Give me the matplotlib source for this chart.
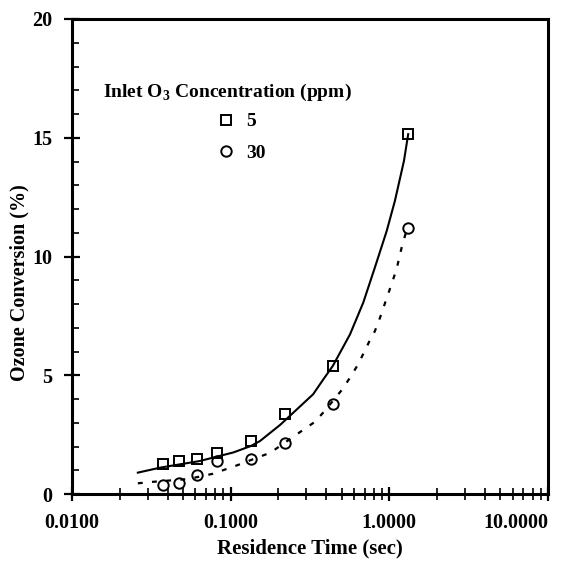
import matplotlib
matplotlib.use("Agg")
import matplotlib.pyplot as plt
from matplotlib.ticker import FixedLocator, LogLocator, MultipleLocator, NullFormatter

plt.rcParams['font.family'] = ['Liberation Serif', 'DejaVu Serif']
plt.rcParams['font.weight'] = 'bold'
plt.rcParams['mathtext.fontset'] = 'custom'
plt.rcParams['mathtext.bf'] = 'Liberation Serif:bold'
plt.rcParams['mathtext.rm'] = 'Liberation Serif:bold'

# measured points
time_pts = [0.0376, 0.0472, 0.0611, 0.0816, 0.134, 0.22, 0.444, 1.315]
conv_5ppm = [1.26, 1.40, 1.46, 1.72, 2.23, 3.38, 5.39, 15.15]
conv_30ppm = [0.37, 0.48, 0.80, 1.38, 1.46, 2.15, 3.78, 11.21]

# model curves
fit5_t = [0.026, 0.036, 0.064, 0.104, 0.134, 0.153, 0.205, 0.331, 0.384, 0.44,
          0.565, 0.685, 0.811, 0.962, 1.084, 1.236, 1.315]
fit5_c = [0.90, 1.11, 1.39, 1.75, 2.02, 2.23, 2.91, 4.20, 4.83, 5.39,
          6.72, 8.06, 9.54, 11.07, 12.34, 14.02, 15.15]
fit30_t = [0.026, 0.032, 0.054, 0.077, 0.109, 0.178, 0.285, 0.34, 0.388, 0.506,
           0.565, 0.636, 0.75, 0.811, 0.873, 0.99, 1.11, 1.195, 1.28, 1.315]
fit30_c = [0.45, 0.51, 0.63, 0.85, 1.20, 1.74, 2.69, 3.04, 3.47, 4.41,
           4.90, 5.46, 6.44, 6.86, 7.42, 8.48, 9.46, 10.37, 11.07, 11.21]

x_ticks = [0.01, 0.1, 1.0, 10.0]
x_ticklabels = ['0.0100', '0.1000', '1.0000', '10.0000']
y_ticks = [0, 5, 10, 15, 20]

fig = plt.figure(figsize=(5.83, 5.72), dpi=100)
ax = fig.add_axes([72 / 583, 1 - 494 / 572, 476 / 583, 475 / 572])

ax.plot(fit5_t, fit5_c, color='black', lw=1.5, zorder=2)
ax.plot(fit30_t, fit30_c, color='black', lw=1.6, linestyle=(0, (2.2, 4.2)), zorder=2)
ax.plot(time_pts, conv_5ppm, linestyle='none', marker='s', ms=7.5, mfc='none',
        mec='black', mew=1.4, label='5', zorder=3)
ax.plot(time_pts, conv_30ppm, linestyle='none', marker='o', ms=7.5, mfc='none',
        mec='black', mew=1.4, label='30', zorder=3)

ax.set_xscale('log')
ax.set_xlim(0.01, 10)
ax.set_ylim(0, 20)
ax.xaxis.set_major_locator(FixedLocator(x_ticks))
ax.set_xticklabels(x_ticklabels)
ax.xaxis.set_minor_locator(LogLocator(base=10, subs=range(2, 10)))
ax.xaxis.set_minor_formatter(NullFormatter())
ax.yaxis.set_major_locator(FixedLocator(y_ticks))
ax.yaxis.set_minor_locator(MultipleLocator(1))

for s in ax.spines.values():
    s.set_linewidth(2.2)

ax.tick_params(axis='x', which='major', direction='inout', length=10, width=1.6,
               labelsize=14.5, pad=9)
ax.tick_params(axis='x', which='minor', direction='inout', length=8, width=1.2)
ax.tick_params(axis='y', which='major', direction='inout', length=12, width=1.6,
               labelsize=14.5, pad=8)
ax.tick_params(axis='y', which='minor', direction='in', length=5, width=1.2)

# last x label kept inside the plot width, as in the original
ax.get_xticklabels()[-1].set_horizontalalignment('right')

ax.set_xlabel('Residence Time (sec)', fontsize=15, fontweight='bold')
ax.set_ylabel('Ozone Conversion (%)', fontsize=14.5, fontweight='bold')
ax.xaxis.set_label_coords(0.5, -0.093)
ax.yaxis.set_label_coords(-0.09, 0.444)

ax.text(0.065, 0.846, r'Inlet O$_{\mathbf{3}}$ Concentration (ppm)', transform=ax.transAxes,
        fontsize=14, fontweight='bold', ha='left', va='center')
leg = ax.legend(loc='center left', bbox_to_anchor=(0.305, 0.751), frameon=False,
                fontsize=14, borderaxespad=0, borderpad=0, handlelength=0.9,
                handletextpad=0.6, labelspacing=0.7)

fig.savefig('out.png', dpi=100)
